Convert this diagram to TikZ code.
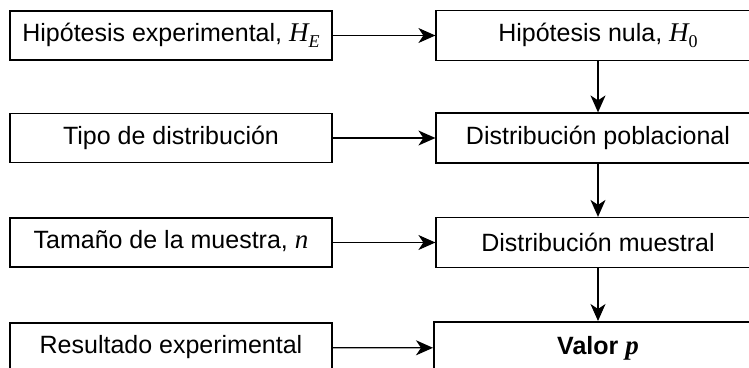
\documentclass[tikz,border=0pt]{standalone}
\usepackage{fontspec}
\setmainfont{Liberation Sans}
\newfontfamily\tnr{Liberation Serif}
\usetikzlibrary{arrows.meta}

\newcommand{\mathvar}[2]{{\tnr\fontsize{27}{30}\selectfont\itshape #1}\raisebox{-0.45ex}{\tnr\fontsize{18}{20}\selectfont #2}}

\begin{document}
\begin{tikzpicture}[x=1pt, y=-1pt,
        inbox/.style={rectangle, draw, line width=1.2pt, minimum width=322pt, minimum height=49pt, inner sep=0pt, align=center, font=\fontsize{25}{30}\selectfont},
        stagebox/.style={rectangle, draw, line width=1.2pt, minimum width=324pt, minimum height=50pt, inner sep=0pt, align=center, font=\fontsize{25}{30}\selectfont},
        resultbox/.style={stagebox, line width=2pt, minimum width=328pt, minimum height=52pt, font=\fontsize{25}{30}\selectfont\bfseries},
        arrow/.style={-{Stealth[length=17pt, width=15pt, inset=5pt]}, line width=1.3pt}
    ]
        \useasboundingbox (0,0) rectangle (749,367);

        % Inputs (left column)
        \node[inbox] (hexp) at (171,35.5) {Hipótesis experimental, \mathvar{H}{\itshape E}};
        \node[inbox] (tipo) at (171,138) {Tipo de distribución};
        \node[inbox] (tam) at (171,242.5) {Tamaño de la muestra, \mathvar{n}{}};
        \node[inbox] (res) at (171,347.5) {Resultado experimental};

        % Chain (right column)
        \node[stagebox] (hnula) at (598,35.5) {Hipótesis nula, \mathvar{H}{0}};
        \node[stagebox] (pobl) at (598,138) {Distribución poblacional};
        \node[stagebox] (muest) at (598,242.5) {Distribución muestral};
        \node[resultbox] (valp) at (598,348) {Valor {\tnr\fontsize{27}{30}\selectfont\bfseries\itshape p}};

        % Arrows
        \draw[arrow] (hexp) -- (hnula);
        \draw[arrow] (tipo) -- (pobl);
        \draw[arrow] (tam) -- (muest);
        \draw[arrow] (res) -- (valp);

        \draw[arrow] (hnula) -- (pobl);
        \draw[arrow] (pobl) -- (muest);
        \draw[arrow] (muest) -- (valp);
    \end{tikzpicture}
\end{document}
